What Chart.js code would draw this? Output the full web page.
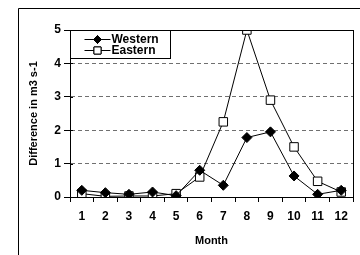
<!DOCTYPE html>
<html>
<head>
<meta charset="utf-8">
<script src="https://cdn.jsdelivr.net/npm/chart.js@4.4.0/dist/chart.umd.min.js"></script>
<style>
  html, body { margin: 0; padding: 0; background: #fff; }
  #wrap { width: 360px; height: 255px; }
</style>
</head>
<body>
<div id="wrap"><canvas id="chart" width="360" height="255"></canvas></div>
<script>
// values
const months = ['1', '2', '3', '4', '5', '6', '7', '8', '9', '10', '11', '12'];
const western = [0.2, 0.13, 0.08, 0.15, 0.04, 0.8, 0.35, 1.78, 1.95, 0.63, 0.08, 0.2];
const eastern = [0.1, 0.02, 0.03, 0.03, 0.1, 0.6, 2.25, 5.0, 2.9, 1.5, 0.47, 0.15];
const yTicks = [0, 1, 2, 3, 4, 5];

const FONT = 'Arial, "Liberation Sans", sans-serif';

// frames + legend box drawn on top
const framePlugin = {
  id: 'frames',
  afterDraw(chart) {
    const c = chart.ctx, a = chart.chartArea;
    c.save();
    c.strokeStyle = '#000';
    c.lineWidth = 1;
    // outer frame (left + top edges visible)
    c.beginPath();
    c.moveTo(18.5, 255);
    c.lineTo(18.5, 8.5);
    c.lineTo(360, 8.5);
    c.stroke();
    // plot frame
    c.strokeRect(Math.round(a.left) + 0.5, Math.round(a.top) + 0.5,
      Math.round(a.right - a.left), Math.round(a.bottom - a.top));
    // y tick marks poke a little into the plot
    const ys = chart.scales.y;
    c.beginPath();
    ys.ticks.forEach(t => {
      const py = Math.round(ys.getPixelForValue(t.value)) + 0.5;
      c.moveTo(a.left, py);
      c.lineTo(a.left + 3, py);
    });
    c.stroke();

    // legend
    const bx = Math.round(a.left) + 0.5, by = Math.round(a.top) + 0.5;
    c.fillStyle = '#fff';
    c.fillRect(bx, by, 100, 28);
    c.strokeRect(bx, by, 100, 28);
    chart.data.datasets.forEach((ds, i) => {
      const y = by + 8.5 + i * 11;
      c.strokeStyle = '#000';
      c.lineWidth = 1;
      c.beginPath();
      c.moveTo(bx + 14, Math.round(y) + 0.5);
      c.lineTo(bx + 40, Math.round(y) + 0.5);
      c.stroke();
      Chart.helpers.drawPoint(c, {
        pointStyle: ds.pointStyle,
        radius: ds.pointStyle === 'rect' ? 5 : 4,
        borderWidth: 1
      }, bx + 27, Math.round(y) + 0.5);
      c.fillStyle = ds.pointBackgroundColor;
      c.strokeStyle = '#000';
      c.fill();
      c.stroke();
      c.fillStyle = '#000';
      c.font = 'bold 12px ' + FONT;
      c.textBaseline = 'middle';
      c.textAlign = 'left';
      c.fillText(ds.label, bx + 41, y + 1);
    });
    c.restore();
  }
};

new Chart(document.getElementById('chart'), {
  type: 'line',
  data: {
    labels: months,
    datasets: [
      {
        label: 'Western',
        data: western,
        borderColor: '#000',
        borderWidth: 1,
        pointStyle: 'rectRot',
        pointRadius: 5,
        pointBackgroundColor: '#000',
        pointBorderColor: '#000',
        pointBorderWidth: 1,
        tension: 0
      },
      {
        label: 'Eastern',
        data: eastern,
        borderColor: '#000',
        borderWidth: 1,
        pointStyle: 'rect',
        pointRadius: 6,
        pointBackgroundColor: '#fff',
        pointBorderColor: '#000',
        pointBorderWidth: 1,
        tension: 0
      }
    ]
  },
  options: {
    responsive: false,
    animation: false,
    layout: { padding: { left: 0, top: 30, right: 4, bottom: 0 } },
    plugins: {
      legend: { display: false },
      tooltip: { enabled: false }
    },
    scales: {
      x: {
        offset: true,
        grid: {
          offset: true,
          drawOnChartArea: false,
          drawTicks: true,
          tickLength: 5,
          color: '#000'
        },
        border: { display: true, color: '#000', width: 1 },
        ticks: {
          color: '#000',
          font: { family: FONT, size: 12, weight: 'bold' },
          padding: 7,
          maxRotation: 0,
          autoSkip: false
        },
        title: {
          display: true,
          text: 'Month',
          color: '#000',
          font: { family: FONT, size: 11, weight: 'bold' },
          padding: { top: 0, bottom: 7 }
        },
        afterFit(scale) { scale.height = 58; }
      },
      y: {
        min: 0,
        max: 5,
        afterBuildTicks(scale) { scale.ticks = yTicks.map(v => ({ value: v })); },
        grid: {
          color: ctx => (ctx.tick && ctx.tick.value > 0 && ctx.tick.value < 5) ? '#707070' : 'rgba(0,0,0,0)',
          tickColor: '#000',
          tickLength: 6,
          drawTicks: true
        },
        border: {
          display: true,
          color: '#000',
          width: 1,
          dash: ctx => ctx.type === 'tick' ? [4, 3] : []
        },
        ticks: {
          color: '#000',
          font: { family: FONT, size: 12, weight: 'bold' },
          padding: 3
        },
        title: {
          display: true,
          text: 'Difference in m3 s-1',
          color: '#000',
          font: { family: FONT, size: 11, weight: 'bold' },
          padding: { top: 27, bottom: 0 }
        },
        afterFit(scale) { scale.width = 70; }
      }
    }
  },
  plugins: [framePlugin]
});
</script>
</body>
</html>
